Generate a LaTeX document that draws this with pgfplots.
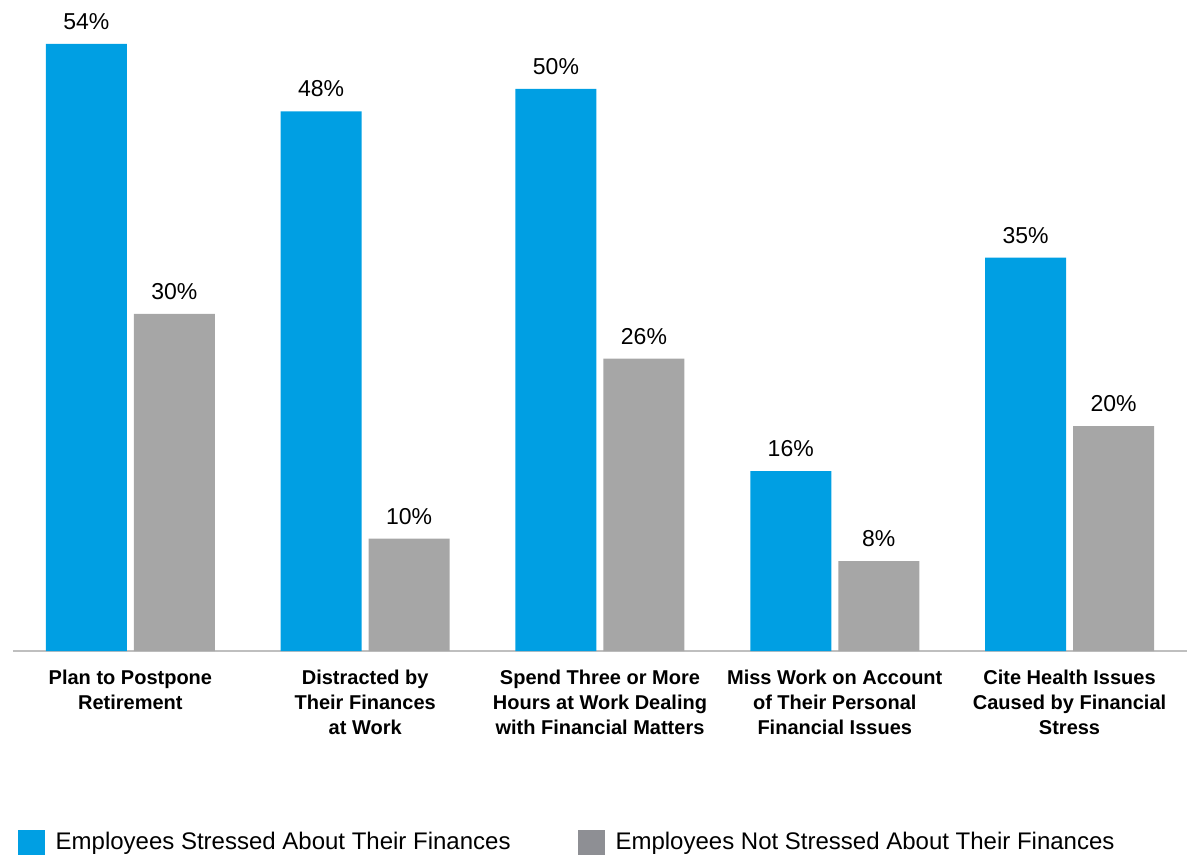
\documentclass[border=0pt]{standalone}
\usepackage{pgfplots}
\pgfplotsset{compat=1.18}
\usepackage{fontspec}
\setmainfont{Liberation Sans}
\definecolor{blueC}{HTML}{009FE3}
\definecolor{grayC}{HTML}{A6A6A6}
\definecolor{grayL}{HTML}{8E8F94}
\definecolor{axisC}{HTML}{BFBFBF}
\begin{document}
\begin{tikzpicture}
\path[use as bounding box] (-13pt,-206pt) rectangle (1174pt,651pt);
\begin{axis}[
  scale only axis,
  width=1174pt, height=652pt,
  xmin=-0.5, xmax=4.5,
  ymin=0, ymax=58,
  clip=false,
  ybar=7pt,
  bar width=81pt,
  axis x line*=bottom,
  axis y line=none,
  x axis line style={axisC, line width=1.2pt, -},
  xtick=data,
  major tick length=0pt,
  /pgf/number format/assume math mode=true,
  xticklabels={{Plan to Postpone\\Retirement},{Distracted by\\Their Finances\\at Work},{Spend Three or More\\Hours at Work Dealing\\with Financial Matters},{Miss Work on Account\\of Their Personal\\Financial Issues},{Cite Health Issues\\Caused by Financial\\Stress}},
  xticklabel style={align=center, font=\fontsize{20}{25}\selectfont\bfseries, inner sep=0pt, yshift=-19pt},
  nodes near coords={\pgfmathprintnumber\pgfplotspointmeta\%},
  every node near coord/.append style={font=\fontsize{23}{27}\selectfont, inner sep=0pt, yshift=14pt, black},
  legend columns=2,
  legend style={at={(axis description cs:0.004,-0.293)}, anchor=west, draw=none, fill=none, inner sep=0pt, outer sep=0pt,
    font=\fontsize{24}{28}\selectfont,
    /tikz/every odd column/.append style={column sep=9pt},
    /tikz/every even column/.append style={column sep=65pt},
    nodes={inner sep=2pt}},
]
\addplot[fill=blueC, draw=none,
  legend image code/.code={\fill[blueC] (0pt,-12.5pt) rectangle (27pt,12.5pt);}]
  coordinates {(0,54) (1,48) (2,50) (3,16) (4,35)};
\addplot[fill=grayC, draw=none,
  legend image code/.code={\fill[grayL] (0pt,-12.5pt) rectangle (27pt,12.5pt);}]
  coordinates {(0,30) (1,10) (2,26) (3,8) (4,20)};
\legend{Employees Stressed About Their Finances, Employees Not Stressed About Their Finances}
\end{axis}
\end{tikzpicture}
\end{document}
